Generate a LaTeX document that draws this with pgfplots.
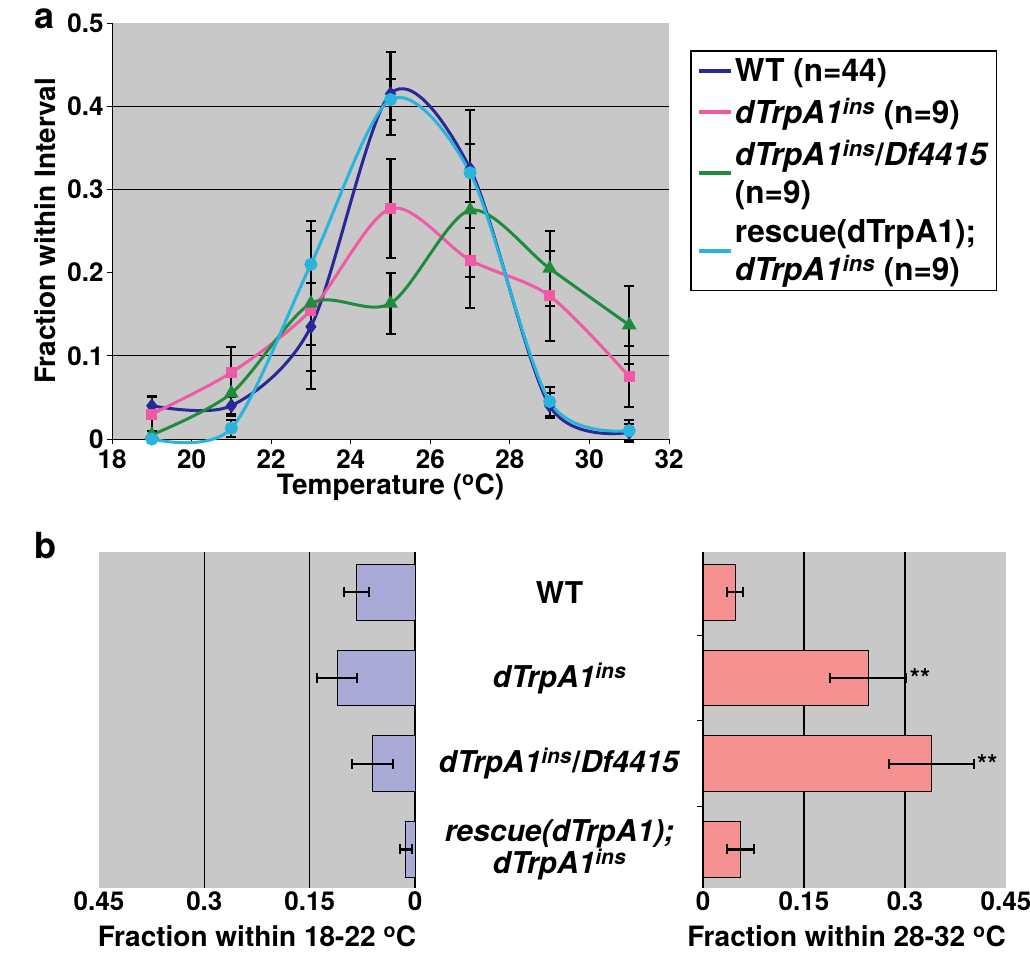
\documentclass[border=0pt]{standalone}
\usepackage{fontspec}
\setmainfont{TeX Gyre Heros}
\usepackage{pgfplots}
\pgfplotsset{compat=1.18}
\definecolor{wt}{RGB}{40,40,150}
\definecolor{ins}{RGB}{240,90,165}
\definecolor{dfc}{RGB}{30,140,60}
\definecolor{res}{RGB}{40,180,220}
\definecolor{panel}{RGB}{200,200,200}
\definecolor{lbar}{RGB}{170,170,215}
\definecolor{rbar}{RGB}{245,145,145}
\newcommand{\fs}[1]{\fontsize{#1}{#1}\selectfont\bfseries}
\newcommand{\ins}{\textit{dTrpA1}\textsuperscript{\textit{ins}}}

\begin{document}
\begin{tikzpicture}
\path[use as bounding box] (0,0) rectangle (1030pt,-958pt);
\pgfplotsset{
  every axis/.append style={scale only axis,
    axis background/.style={fill=panel},
    tick label style={font=\fs{26}}, label style={font=\fs{28}},
    /pgf/number format/assume math mode=true},
  error bars/ebar/.style={error bar style={black, line width=2.2pt},
    error mark options={black, line width=2pt, mark size=5pt, rotate=90}},
}

\node[font=\fs{36}] at (45pt,-19pt) {a};
\node[font=\fs{36}] at (45pt,-546pt) {b};

% panel a
\begin{axis}[at={(112pt,-439pt)}, anchor=south west, width=557pt, height=416pt,
  xmin=18, xmax=32, ymin=0, ymax=0.5,
  xtick={18,20,...,32}, ytick={0,0.1,0.2,0.3,0.4,0.5},
  axis x line*=bottom, axis y line*=left, axis line style={line width=1pt},
  tick align=outside, major tick length=5pt, tick style={black, line width=0.8pt},
  xticklabel style={yshift=-2pt},
  extra y ticks={0.1,0.3,0.4}, extra y tick labels={},
  extra y tick style={grid=major, major tick length=0pt, grid style={black, line width=1pt}},
  clip=false,
  xlabel={Temperature (\textsuperscript{o}C)}, ylabel={Fraction within Interval},
  xlabel style={yshift=2pt},
  legend image code/.code={\draw[#1, line width=4pt] (0pt,0pt) -- (32pt,0pt);},
  legend style={at={(1.038,0.935)}, anchor=north west, draw=black, line width=1.5pt,
    font=\fontsize{31.5}{38}\selectfont\bfseries, row sep=11pt, inner sep=6pt,
    cells={anchor=west, align=left}},
  legend cell align=left,
]
\addlegendimage{wt}\addlegendentry{WT (n=44)}
\addlegendimage{ins}\addlegendentry{\ins{} (n=9)}
\addlegendimage{dfc}\addlegendentry{\ins/\textit{Df4415}\\(n=9)}
\addlegendimage{res}\addlegendentry{rescue(dTrpA1);\\\ins{} (n=9)}

\addplot[forget plot, wt, line width=3pt, smooth, mark=diamond*, mark size=5pt,
  error bars/.cd, y dir=both, y explicit, ebar] coordinates {
  (19,0.040) +- (0,0.012) (21,0.040) +- (0,0.012) (23,0.135) +- (0,0.053)
  (25,0.415) +- (0,0.050) (27,0.325) +- (0,0.071) (29,0.040) +- (0,0.015)
  (31,0.008) +- (0,0.010)};
\addplot[forget plot, ins, line width=3pt, smooth, mark=square*, mark size=4pt,
  error bars/.cd, y dir=both, y explicit, ebar] coordinates {
  (19,0.030) +- (0,0.020) (21,0.080) +- (0,0.030) (23,0.155) +- (0,0.095)
  (25,0.277) +- (0,0.060) (27,0.215) +- (0,0.057) (29,0.172) +- (0,0.054)
  (31,0.075) +- (0,0.037)};
\addplot[forget plot, dfc, line width=3pt, smooth, mark=triangle*, mark size=5.5pt,
  error bars/.cd, y dir=both, y explicit, ebar] coordinates {
  (19,0.005) +- (0,0.005) (21,0.055) +- (0,0.025) (23,0.163) +- (0,0.050)
  (25,0.163) +- (0,0.037) (27,0.275) +- (0,0.080) (29,0.205) +- (0,0.045)
  (31,0.137) +- (0,0.047)};
\addplot[forget plot, res, line width=3pt, smooth, mark=*, mark size=5pt,
  error bars/.cd, y dir=both, y explicit, ebar] coordinates {
  (19,0.000) +- (0,0.000) (21,0.013) +- (0,0.010) (23,0.210) +- (0,0.052)
  (25,0.408) +- (0,0.025) (27,0.320) +- (0,0.035) (29,0.045) +- (0,0.017)
  (31,0.010) +- (0,0.013)};
\end{axis}

% panel b, left
\begin{axis}[at={(99pt,-888pt)}, anchor=south west, width=316pt, height=336pt,
  xbar, bar width=0.65, x dir=reverse, y dir=reverse,
  xmin=0, xmax=0.45, ymin=-0.47, ymax=3.45,
  xtick={0,0.15,0.3,0.45}, ytick=\empty,
  minor ytick={0.5,1.5,2.5}, minor tick length=6pt, major tick length=0pt,
  axis line style={draw=none}, ytick pos=right,
  tick align=outside, tick style={black, line width=0.8pt},
  extra x ticks={0,0.15,0.3}, extra x tick labels={},
  extra x tick style={grid=major, grid style={black, line width=1.2pt}},
  xlabel={Fraction within 18-22 \textsuperscript{o}C},
  xlabel style={yshift=-8pt},
]
\addplot[fill=lbar, draw=black, line width=0.8pt,
  error bars/.cd, x dir=both, x explicit, ebar] coordinates {
  (0.083,0) +- (0.018,0) (0.111,1) +- (0.029,0)
  (0.061,2) +- (0.029,0) (0.013,3) +- (0.009,0)};
\end{axis}

% panel b, right
\begin{axis}[at={(703pt,-888pt)}, anchor=south west, width=303pt, height=336pt,
  xbar, bar width=0.65, y dir=reverse,
  xmin=0, xmax=0.45, ymin=-0.47, ymax=3.45,
  xtick={0,0.15,0.3,0.45}, ytick={0,1,2,3},
  yticklabels={WT, \ins, \ins/\textit{Df4415}, \textit{rescue(dTrpA1);}\\\ins},
  yticklabel style={text width=280pt, align=center, font=\fontsize{30}{30}\selectfont\bfseries},
  minor ytick={0.5,1.5,2.5}, minor tick length=6pt, major tick length=0pt,
  axis line style={draw=none}, ytick pos=left,
  tick align=outside, tick style={black, line width=0.8pt},
  extra x ticks={0,0.15,0.3}, extra x tick labels={},
  extra x tick style={grid=major, grid style={black, line width=1.2pt}},
  xlabel={Fraction within 28-32 \textsuperscript{o}C},
  xlabel style={yshift=-8pt, xshift=-8pt},
]
\addplot[fill=rbar, draw=black, line width=0.8pt,
  error bars/.cd, x dir=both, x explicit, ebar] coordinates {
  (0.048,0) +- (0.012,0) (0.245,1) +- (0.057,0)
  (0.339,2) +- (0.063,0) (0.056,3) +- (0.020,0)};
\node[anchor=west, font=\fs{26}] at (axis cs:0.302,1) {**};
\node[anchor=west, font=\fs{26}] at (axis cs:0.402,2) {**};
\end{axis}
\end{tikzpicture}
\end{document}
